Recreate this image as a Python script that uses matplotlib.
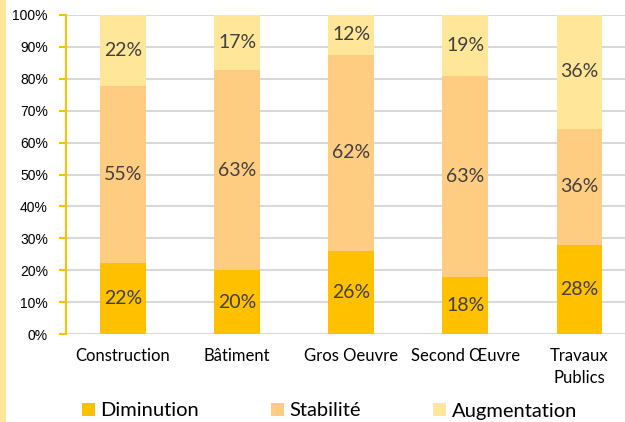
import matplotlib
matplotlib.use("Agg")
import matplotlib.pyplot as plt
from matplotlib.patches import Rectangle
import numpy as np

categories = ["Construction", "Bâtiment", "Gros Oeuvre", "Second Œuvre", "Travaux\nPublics"]
diminution = [22.3, 20.0, 26.0, 17.9, 27.9]
stabilite = [55.3, 62.8, 61.5, 63.0, 36.4]
augmentation = [22.4, 17.2, 12.5, 19.1, 35.7]
series_names = ["Diminution", "Stabilité", "Augmentation"]
colors = ["#FFC000", "#FFCD82", "#FFE699"]
yticks = [0, 10, 20, 30, 40, 50, 60, 70, 80, 90, 100]

fig = plt.figure(figsize=(6.25, 4.22), dpi=100)
ax = fig.add_axes([66/625, 1-334/422, 1-66/625, (334-15)/422])

fig.patches.append(Rectangle((0, 0), 6/625, 1, transform=fig.transFigure,
                             facecolor="#FFE699", edgecolor="none", zorder=0))

x = np.arange(len(categories))
w = 0.4
bottom = np.zeros(len(categories))
label_font = "Lato"
for vals, name, c in zip([diminution, stabilite, augmentation], series_names, colors):
    vals = np.array(vals)
    ax.bar(x, vals, w, bottom=bottom, color=c, label=name, zorder=3)
    for xi, b, v in zip(x, bottom, vals):
        ax.text(xi, b + v / 2, f"{round(v):d}%", ha="center", va="center",
                fontsize=14, color="#404040", family=label_font, zorder=4)
    bottom = bottom + vals

ax.set_ylim(0, 100)
ax.set_xlim(-0.5, 4.4)
ax.set_yticks(yticks)
ax.set_yticklabels([f"{t}%" for t in yticks], family="Liberation Sans", fontsize=10, color="#000000")
ax.set_xticks(x)
ax.set_xticklabels(categories, family=label_font, fontsize=12, color="#000000", linespacing=1.45)
ax.tick_params(axis="x", length=0, pad=10)
ax.tick_params(axis="y", length=5, width=1.5, color="#FFC000", pad=8)
ax.grid(axis="y", color="#D9D9D9", linewidth=1.5, zorder=0)
ax.set_axisbelow(True)
for s in ["top", "right", "bottom"]:
    ax.spines[s].set_visible(False)
ax.spines["left"].set_color("#FFC000")
ax.spines["left"].set_linewidth(1.5)

handles, labels = ax.get_legend_handles_labels()
fig.legend(handles, labels, loc="center", bbox_to_anchor=(0.527, 1-411/422),
           ncol=3, frameon=False, prop={"family": label_font, "size": 14.5},
           handlelength=0.65, handleheight=0.65, handletextpad=0.25, columnspacing=3.6,
           borderpad=0, borderaxespad=0)

fig.savefig("out.png", dpi=100)
